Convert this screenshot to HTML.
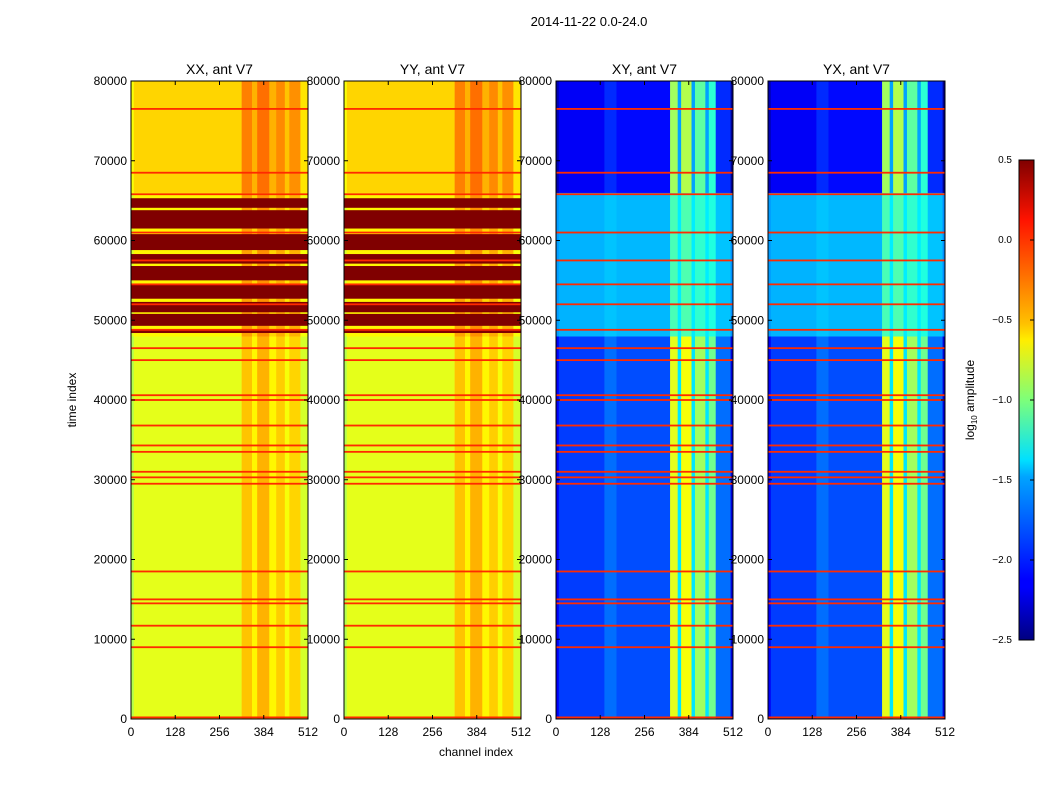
<!DOCTYPE html>
<html><head><meta charset="utf-8">
<style>
body{margin:0;background:#fff;}
svg{display:block;font-family:"Liberation Sans","DejaVu Sans",sans-serif;}
</style></head>
<body>
<svg id="fig" width="1050" height="800" viewBox="0 0 1050 800">
<defs>
<linearGradient id="jet" x1="0" y1="1" x2="0" y2="0">
<stop offset="0" stop-color="#000080"/><stop offset="0.11" stop-color="#0000ff"/>
<stop offset="0.125" stop-color="#0000ff"/><stop offset="0.34" stop-color="#00a4ff"/>
<stop offset="0.375" stop-color="#00e0ff"/><stop offset="0.5" stop-color="#7dff7a"/>
<stop offset="0.625" stop-color="#ffee00"/><stop offset="0.66" stop-color="#ffc000"/>
<stop offset="0.875" stop-color="#ff1300"/><stop offset="1" stop-color="#800000"/>
</linearGradient>
</defs>
<text x="589" y="26" font-size="13" text-anchor="middle">2014-11-22 0.0-24.0</text>
<text x="476" y="756" font-size="12" text-anchor="middle">channel index</text>
<text x="76" y="400" font-size="12" text-anchor="middle" transform="rotate(-90 76 400)">time index</text>
<g id="panels"></g>
<g>
<rect x="1019" y="160" width="15" height="480" fill="url(#jet)" stroke="#000" stroke-width="1"/>
<g id="cbticks"></g>
<text x="974" y="400" font-size="12" text-anchor="middle" transform="rotate(-90 974 400)">log<tspan font-size="8" dy="3">10</tspan><tspan dy="-3"> amplitude</tspan></text>
</g>
</svg>
<script>
// ---- data ----
const panelTitles = ["XX, ant V7","YY, ant V7","XY, ant V7","YX, ant V7"];
const xTicks = [0,128,256,384,512];
const yTicks = [0,10000,20000,30000,40000,50000,60000,70000,80000];
const cbTicks = [0.5,0.0,-0.5,-1.0,-1.5,-2.0,-2.5];
// time regions [t0,t1,base log amplitude, channel-structure scale]
const regionsPar = [[0,48000,-0.7,1],[48000,66000,-0.6,1],[66000,80000,-0.5,1]];
const regionsCross = [[0,48000,-1.95,1],[48000,66000,-1.6,0.35],[66000,80000,-2.15,1]];
// channel segments [c0,c1,offset]
const colsPar = [[0,8,-0.15],[8,320,0],[320,350,0.25],[350,365,0.1],[365,400,0.3],[400,420,0.1],[420,445,0.22],[445,458,0.05],[458,490,0.2],[490,512,-0.05]];
const colsCross = [[0,8,-0.2],[8,140,0],[140,175,0.15],[175,330,0.05],[330,352,1.25],[352,362,0.5],[362,392,1.3],[392,402,0.5],[402,432,1.05],[432,442,0.5],[442,462,0.9],[462,505,0.15],[505,512,-0.3]];
// dark-red bands in parallel pols [t0,t1,value]
const bandsPar = [[48400,48900,0.5],[49300,50800,0.5],[51000,52300,0.5],[52700,54500,0.5],[55000,56800,0.5],[57100,58300,0.5],[58800,60800,0.5],[61500,63800,0.5],[64100,65300,0.5]];
// horizontal red lines [time, value]
const lines = [[200,0.0],[9000,0.0],[11700,0.0],[14500,0.0],[15000,0.0],[18500,0.0],[29500,0.0],[30300,0.0],[31000,0.0],[33500,0.0],[34300,0.0],[36800,0.0],[40000,0.0],[40600,0.0],[45000,0.0],[46500,0.0],[48800,0.0],[52000,0.0],[54500,0.0],[57500,0.0],[61000,0.0],[65800,0.0],[68500,0.0],[76500,0.0]];
// ---- helpers ----
const NS="http://www.w3.org/2000/svg";
const vmin=-2.5,vmax=0.5;
function jet(v){let n=(v-vmin)/(vmax-vmin);n=Math.max(0,Math.min(1,n));
 const c=x=>Math.round(255*Math.max(0,Math.min(1,x)));
 return `rgb(${c(1.5-Math.abs(4*n-3))},${c(1.5-Math.abs(4*n-2))},${c(1.5-Math.abs(4*n-1))})`;}
function mk(tag,attrs,parent){const e=document.createElementNS(NS,tag);for(const k in attrs)e.setAttribute(k,attrs[k]);parent.appendChild(e);return e;}
const panelsG=document.getElementById('panels');
const lefts=[131,344,556,768], W=177, topY=81, H=638;
panelTitles.forEach((title,pi)=>{
 const L=lefts[pi];
 const xs=c=>L+c/512*W, ys=t=>topY+H-t/80000*H;
 const g=mk('g',{},panelsG);
 
 
 const cross=pi>=2;
 const regions=cross?regionsCross:regionsPar, cols=cross?colsCross:colsPar;
 regions.forEach(r=>cols.forEach(c=>{
  const e=mk('rect',{x:xs(c[0]),y:ys(r[1]),width:xs(c[1])-xs(c[0])+0.3,height:ys(r[0])-ys(r[1])+0.3,fill:jet(r[2]+c[2]*r[3])},g);
  
  
 }));
 if(!cross) bandsPar.forEach(b=>{
  const e=mk('rect',{x:L,y:ys(b[1]),width:W,height:ys(b[0])-ys(b[1]),fill:jet(b[2])},g);
  
  
 });
 lines.forEach(l=>{
  const e=mk('rect',{x:L,y:ys(l[0])-0.9,width:W,height:1.8,fill:jet(l[1])},g);
  
  
 });
 const fr=mk('rect',{x:L,y:topY,width:W,height:H,fill:'none',stroke:'#000','stroke-width':1},g);
 
 
 const t=mk('text',{x:L+W/2,y:topY-7,'font-size':14,'text-anchor':'middle'},g);t.textContent=title;
 
 
 xTicks.forEach(v=>{
  mk('line',{x1:xs(v),x2:xs(v),y1:topY+H,y2:topY+H-4,stroke:'#000'},g);
  mk('line',{x1:xs(v),x2:xs(v),y1:topY,y2:topY+4,stroke:'#000'},g);
  const tx=mk('text',{x:xs(v),y:topY+H+17,'font-size':12,'text-anchor':'middle'},g);tx.textContent=v;
  
  
 });
 yTicks.forEach(v=>{
  mk('line',{x1:L,x2:L+4,y1:ys(v),y2:ys(v),stroke:'#000'},g);
  mk('line',{x1:L+W,x2:L+W-4,y1:ys(v),y2:ys(v),stroke:'#000'},g);
  const ty=mk('text',{x:L-4,y:ys(v)+4,'font-size':12,'text-anchor':'end'},g);ty.textContent=v;
  
  
 });
});
const cbg=document.getElementById('cbticks');
cbTicks.forEach(v=>{
 const y=160+(vmax-v)/(vmax-vmin)*480;
 mk('line',{x1:1030,x2:1034,y1:y,y2:y,stroke:'#000'},cbg);
 const t=mk('text',{x:1012,y:y+3,'font-size':10,'text-anchor':'end'},cbg);
 t.textContent=(v<0?'\u2212':'')+Math.abs(v).toFixed(1);
 
 
});
</script>
</body></html>
